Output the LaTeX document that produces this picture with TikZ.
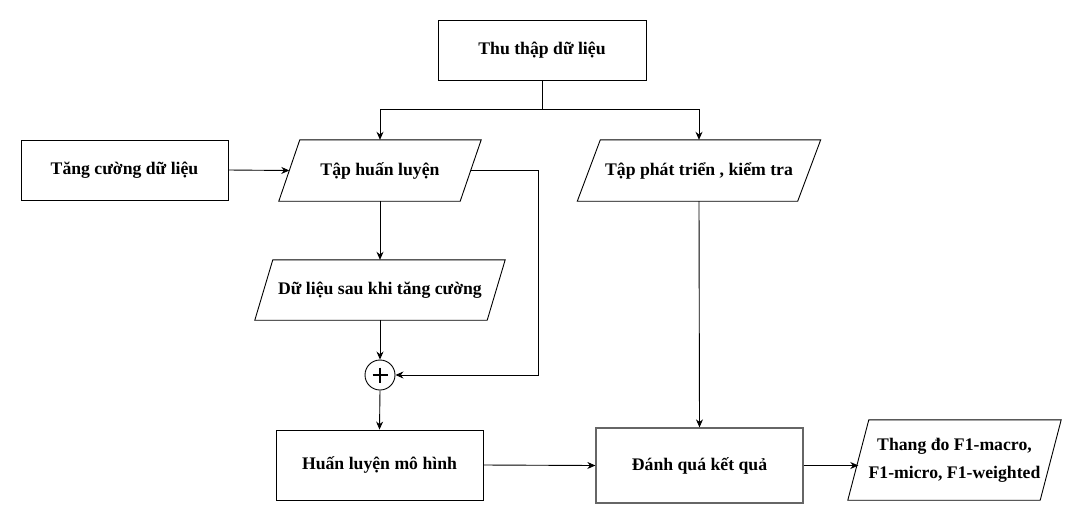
\documentclass[tikz,border=0pt]{standalone}
\usepackage{fontspec}
\setmainfont{Liberation Serif}
\usetikzlibrary{arrows.meta,calc}
\begin{document}
\begin{tikzpicture}[x=1pt,y=-1pt,
  every node/.style={font=\bfseries\fontsize{17.7}{21}\selectfont, inner sep=0pt},
  box/.style={draw, line width=0.9pt, minimum width=207pt, minimum height=60pt, align=center},
  pbox/.style={minimum height=61pt, align=center},
  conn/.style={line width=0.9pt, -{Stealth[length=8pt,width=7pt]}},
  plain/.style={line width=0.9pt},
  shp/.style={line width=0.9pt}]
\useasboundingbox (0,0) rectangle (1082,531);
\newcommand\paral[2]{\draw[shp] ([xshift=#2]#1.north west) -- ([xshift=#2]#1.north east) -- ([xshift=-#2]#1.south east) -- ([xshift=-#2]#1.south west) -- cycle;}
% nodes
\node[box, minimum width=208pt] (thu) at (542,50) {Thu thập dữ liệu};
\node[box] (tang) at (124.5,170) {Tăng cường dữ liệu};
\node[pbox, minimum width=181pt] (tap) at (380,170.5) {Tập huấn luyện};
\paral{tap}{10.5pt}
\node[pbox, minimum width=220pt] (dev) at (699,170.5) {Tập phát triển , kiểm tra};
\paral{dev}{11.5pt}
\node[pbox, minimum width=232pt, minimum height=60pt] (sau) at (380,290) {Dữ liệu sau khi tăng cường};
\paral{sau}{9pt}
\node[draw, circle, line width=0.9pt, minimum size=30pt] (plus) at (380,375) {};
\draw[line width=2.6pt] ($(plus.center)+(-7.5,0)$) -- ($(plus.center)+(7.5,0)$)
  ($(plus.center)+(0,-7.5)$) -- ($(plus.center)+(0,7.5)$);
\node[box, minimum height=70pt] (train) at (379.5,465) {Huấn luyện mô hình};
\node[box, minimum height=75pt, draw=black!60, line width=1.3pt] (eval) at (699.5,465.5) {Đánh quá kết quả};
\node[pbox, minimum width=192pt, minimum height=80pt, font=\bfseries\fontsize{17.7}{28}\selectfont] (f1) at (954.5,460) {Thang đo F1-macro,\\F1-micro, F1-weighted};
\paral{f1}{10.5pt}
% connectors
\coordinate (split) at (542,109);
\draw[plain] (thu.south) -- (split);
\draw[conn] (split) -| (tap.north);
\draw[conn] (split) -| (dev.north);
\draw[conn] (tang.east) -- (tap.west);
\draw[conn] (tap.south) -- (sau.north);
\draw[conn] (sau.south) -- (plus.north);
\coordinate (rt) at (538,170.5);
\coordinate (rb) at (538,375);
\draw[conn] (tap.east) -- (rt) -- (rb) -- (plus.east);
\draw[conn] (plus.south) -- (train.north);
\draw[conn] (dev.south) -- (eval.north);
\draw[conn] (train.east) -- (eval.west);
\draw[conn] (eval.east) -- (eval.east -| f1.west);
\end{tikzpicture}
\end{document}
